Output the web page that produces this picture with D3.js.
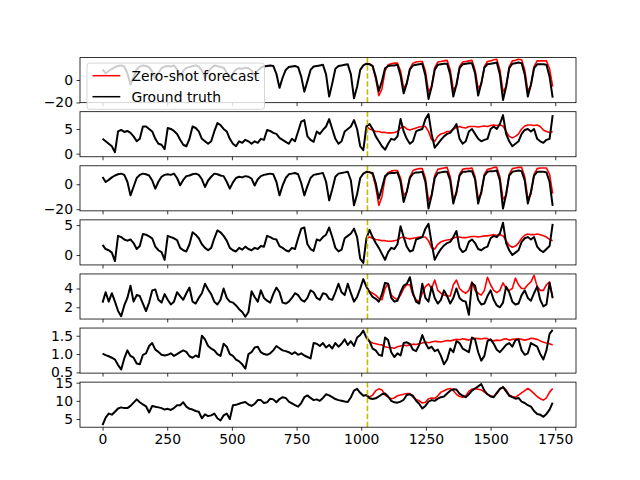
<!DOCTYPE html>
<html>
<head>
<meta charset="utf-8">
<script src="https://cdn.jsdelivr.net/npm/d3@7"></script>
<style>
  body { margin: 0; background: #fff; }
  svg { font-family: "DejaVu Sans", sans-serif; }
</style>
</head>
<body>
<svg width="640" height="480"></svg>
<script>
// series are sampled every 12 time steps (t = 0, 12, ..., 1740)
const step = 12;
const forecastFrom = 85;   // forecast starts at sample 85 (t = 1020)
const splitAt = 1024;      // end of the context window
const xTicks = [0, 250, 500, 750, 1000, 1250, 1500, 1750];

/* ground truth, one array per channel */
const hufl = [
  9.5, 6.0, 8.0, 10.0, 11.5, 12.5, 13.0, 12.0, 6.0, -4.0,
  2.5, 9.5, 12.0, 13.0, 12.5, 11.5, 7.5, 1.0, 6.5, 10.5,
  12.0, 12.5, 12.0, 13.0, 9.5, 3.5, 8.0, 11.0, 11.5, 12.5,
  13.0, 12.0, 8.5, 2.0, 7.5, 10.5, 13.0, 12.5, 11.5, 11.0,
  6.5, 1.0, 6.0, 9.5, 10.5, 10.0, 11.0, 10.5, 8.5, 3.5,
  8.5, 11.0, 12.0, 12.5, 13.0, 12.5, 5.5, -7.0, 2.0, 9.0,
  11.5, 12.0, 12.5, 11.5, 3.0, -10.4, -1.0, 9.0, 12.0, 12.5,
  13.0, 13.5, 5.0, -14.8, -3.0, 10.0, 12.5, 13.0, 13.5, 14.0,
  5.0, -16.3, -6.0, 9.0, 13.0, 14.5, 14.0, 12.5, 3.0, -9.8,
  -1.0, 10.5, 12.5, 13.0, 13.0, 13.5, 4.0, -11.9, -3.0, 9.5,
  13.0, 13.5, 14.0, 14.5, 4.0, -16.9, -6.0, 9.0, 13.5, 14.0,
  14.5, 14.5, 5.0, -14.8, -4.0, 10.5, 14.0, 14.5, 15.0, 15.0,
  6.0, -13.9, -3.0, 11.0, 14.0, 14.5, 15.0, 15.5, 5.0, -17.8,
  -6.0, 10.5, 14.5, 15.0, 15.5, 15.0, 5.0, -14.8, -4.0, 10.5,
  14.0, 14.0, 14.0, 13.5, 3.0, -15.7
];
const hull = [
  3.0, 2.5, 2.0, 1.5, 0.3, 4.5, 4.8, 4.4, 4.6, 4.2,
  3.5, 2.5, 3.0, 5.5, 5.5, 5.0, 4.5, 3.0, 2.0, 1.8,
  0.9, 5.2, 5.0, 4.6, 4.0, 2.8, 1.8, 1.5, 3.0, 5.5,
  5.2, 4.5, 3.0, 2.5, 2.0, 2.5, 4.5, 6.2, 5.8, 5.0,
  4.5, 3.0, 2.0, 1.5, 2.5, 2.2, 2.8, 2.5, 2.0, 2.5,
  2.2, 3.0, 2.8, 4.8, 4.6, 4.2, 4.0, 3.2, 2.8, 2.4,
  2.0, 3.0, 2.5, 4.5, 6.5, 6.8, 3.5, 2.8, 2.4, 4.5,
  4.0, 4.8, 5.5, 7.0, 5.0, 3.0, 2.0, 2.5, 4.5, 5.0,
  5.5, 6.8, 5.0, 1.5, 0.7, 5.5, 6.0, 5.0, 3.5, 2.5,
  1.5, 0.8, 2.0, 3.0, 2.8, 3.5, 7.0, 4.5, 3.0, 2.0,
  2.5, 4.5, 4.8, 5.0, 7.0, 8.0, 4.0, 1.2, 2.0, 2.8,
  3.5, 4.0, 4.2, 5.0, 6.0, 3.0, 2.0, 2.5, 4.5, 5.0,
  4.0, 3.0, 2.5, 2.8, 3.0, 5.0, 5.5, 5.0, 6.0, 7.8,
  4.0, 2.5, 1.5, 2.0, 2.5, 4.0, 4.8, 5.0, 4.5, 5.0,
  3.0, 2.5, 2.2, 2.8, 3.0, 7.8
];
const mufl = [
  5.8, 1.8, 3.5, 5.5, 7.0, 8.0, 8.5, 7.5, 2.0, -8.9,
  -2.0, 5.0, 7.5, 8.5, 8.0, 7.0, 3.0, -3.5, 2.0, 6.0,
  7.5, 8.0, 7.5, 8.5, 5.0, -0.8, 3.5, 6.5, 7.0, 8.0,
  8.5, 7.5, 4.0, -2.2, 3.0, 6.0, 8.5, 8.0, 7.0, 6.5,
  2.0, -3.5, 1.5, 5.0, 6.0, 5.5, 6.5, 6.0, 4.5, -1.0,
  4.0, 6.5, 7.5, 8.0, 8.5, 8.0, 2.0, -8.9, -1.0, 5.0,
  8.0, 8.5, 9.0, 8.0, 1.0, -8.9, -1.5, 5.0, 7.5, 8.0,
  8.5, 9.0, 2.0, -12.9, -4.0, 6.0, 8.5, 9.0, 9.5, 10.0,
  3.0, -16.9, -8.0, 5.0, 8.5, 10.0, 9.5, 9.0, 1.0, -11.5,
  -3.0, 6.5, 8.5, 9.0, 9.0, 9.5, 2.0, -14.2, -6.0, 5.0,
  8.5, 9.5, 9.5, 10.0, 2.0, -19.5, -9.0, 5.0, 9.0, 9.5,
  10.0, 10.0, 3.0, -15.5, -6.0, 7.0, 10.0, 10.0, 10.5, 10.5,
  4.0, -15.5, -6.0, 7.0, 10.0, 10.5, 10.5, 11.0, 3.0, -19.5,
  -8.0, 7.0, 10.0, 10.5, 11.0, 10.5, 3.0, -15.5, -6.0, 7.0,
  10.0, 10.0, 10.0, 9.5, 2.0, -17.4
];
const mull = [
  1.7, 1.0, 0.8, 0.4, -1.0, 3.2, 3.0, 2.6, 2.4, 2.6,
  2.0, 1.0, 1.5, 3.5, 3.4, 3.1, 2.8, 1.4, 0.8, 0.5,
  -0.8, 3.2, 3.0, 2.8, 2.5, 1.2, 0.8, 0.6, 1.8, 3.8,
  3.4, 2.8, 1.8, 1.2, 0.8, 1.2, 2.8, 4.1, 3.8, 3.2,
  2.4, 1.2, 0.8, 0.6, 1.2, 0.9, 1.4, 1.0, 0.8, 1.2,
  1.0, 1.5, 1.4, 3.2, 3.0, 2.7, 2.6, 1.5, 1.2, 0.8,
  0.6, 1.2, 1.0, 2.8, 4.4, 4.6, 1.8, 1.0, 0.7, 2.6,
  2.4, 3.0, 3.4, 4.6, 3.0, 1.2, 0.6, 0.9, 2.8, 3.2,
  3.6, 4.4, 3.0, -0.6, -1.3, 2.8, 4.2, 3.0, 2.0, 1.2,
  0.2, -0.8, 0.5, 1.2, 1.0, 1.8, 4.8, 3.0, 1.4, 0.6,
  0.8, 2.6, 2.8, 3.0, 4.4, 5.2, 2.0, -0.8, 0.2, 1.0,
  1.6, 2.0, 2.2, 3.0, 4.0, 1.2, 0.5, 0.8, 2.2, 2.6,
  2.0, 1.0, 0.8, 1.2, 1.4, 2.8, 3.2, 3.0, 3.6, 5.4,
  2.0, 0.8, 0.0, 0.4, 0.8, 2.2, 2.8, 3.0, 2.6, 3.0,
  1.4, 0.8, 0.5, 1.0, 1.5, 5.2
];
const lufl = [
  2.5, 3.6, 2.6, 3.5, 2.6, 1.6, 1.05, 2.2, 3.0, 4.3,
  2.6, 3.3, 3.2, 2.4, 1.6, 2.5, 3.8, 3.9, 2.8, 2.5,
  3.4, 2.8, 2.3, 2.6, 3.6, 3.2, 2.8, 3.5, 4.1, 2.6,
  2.4, 3.0, 3.5, 4.5, 3.9, 3.4, 2.6, 2.3, 2.8, 4.0,
  3.0, 2.6, 2.5, 2.2, 1.8, 1.5, 1.0, 1.5, 3.7, 3.1,
  2.6, 3.8, 3.0, 2.7, 2.5, 3.4, 4.1, 3.6, 2.5, 2.4,
  2.6, 3.0, 3.5, 3.3, 2.8, 2.6, 3.0, 3.8, 3.6, 3.0,
  2.8, 3.5, 3.4, 2.9, 2.8, 3.6, 4.5, 3.6, 3.3, 4.5,
  3.5, 2.6, 3.1, 4.0, 5.0, 4.2, 3.6, 3.1, 2.9, 2.6,
  3.4, 4.6, 4.5, 3.0, 2.6, 2.7, 3.6, 4.3, 4.5, 5.2,
  3.5, 2.6, 2.4, 4.5, 3.0, 2.6, 4.2, 3.0, 2.4, 2.8,
  3.8, 3.2, 2.4, 3.0, 4.0, 3.0, 2.7, 2.6, 1.2, 4.6,
  4.3, 2.8, 2.3, 2.4, 3.2, 3.8, 2.8, 2.2, 2.0, 2.5,
  4.2, 3.6, 2.6, 2.3, 2.4, 3.3, 3.8, 3.0, 2.7, 3.5,
  4.2, 2.8, 2.1, 2.3, 4.6, 3.0
];
const lull = [
  1.01, 0.97, 0.94, 0.90, 0.85, 0.70, 0.58, 0.88, 1.10, 0.95,
  0.90, 0.74, 0.72, 0.98, 1.02, 1.22, 1.30, 1.12, 1.06, 0.98,
  0.96, 0.98, 1.02, 0.95, 1.00, 1.05, 1.10, 1.06, 0.94, 0.90,
  0.96, 0.92, 1.50, 1.40, 1.22, 1.15, 1.10, 1.00, 0.95, 1.28,
  1.20, 1.00, 0.95, 0.85, 0.80, 0.72, 0.60, 1.00, 1.05, 1.18,
  1.20, 1.05, 1.00, 0.98, 1.02, 1.10, 1.22, 1.16, 1.10, 1.08,
  1.05, 1.00, 1.05, 0.98, 1.02, 0.96, 0.92, 0.88, 1.30, 1.28,
  1.22, 1.30, 1.18, 1.25, 1.15, 1.30, 1.20, 1.28, 1.40, 1.25,
  1.35, 1.22, 1.45, 1.52, 1.64, 1.45, 1.35, 1.15, 1.10, 0.98,
  0.95, 1.45, 1.38, 1.05, 0.92, 1.02, 0.96, 1.30, 1.32, 1.28,
  1.12, 1.08, 1.25, 1.52, 1.30, 1.15, 1.20, 1.08, 1.12, 0.95,
  0.72, 0.85, 1.15, 1.05, 1.35, 1.30, 1.15, 1.10, 1.05, 1.45,
  1.40, 1.05, 0.82, 0.95, 1.35, 1.40, 1.28, 1.12, 1.05, 1.15,
  1.25, 1.30, 1.20, 1.38, 1.40, 1.10, 0.98, 1.02, 1.30, 1.25,
  1.20, 1.00, 0.85, 1.10, 1.55, 1.66
];
const ot = [
  3.35, 5.4, 6.5, 6.2, 7.0, 7.9, 8.2, 8.0, 8.0, 8.6,
  9.5, 10.4, 9.6, 9.0, 8.5, 6.8, 8.6, 8.4, 8.2, 8.0,
  7.6, 7.8, 7.5, 8.0, 8.8, 8.8, 9.6, 8.4, 7.8, 7.6,
  7.2, 7.0, 5.2, 6.3, 5.8, 6.0, 6.5, 5.2, 4.6, 6.0,
  6.5, 5.0, 8.8, 8.9, 9.2, 9.5, 9.7, 9.0, 8.6, 9.2,
  10.2, 10.2, 9.4, 9.6, 10.6, 10.4, 9.6, 10.5, 11.0, 10.8,
  9.8, 9.3, 8.8, 8.4, 9.4, 11.0, 11.5, 10.8, 10.2, 10.4,
  10.0, 10.8, 11.8, 11.5, 11.0, 10.5, 10.2, 10.0, 9.8, 9.7,
  11.0, 12.8, 13.3, 12.2, 11.4, 11.6, 10.7, 10.5, 10.7, 11.2,
  11.8, 12.0, 11.2, 10.0, 9.6, 9.5, 9.8, 10.3, 11.6, 11.8,
  11.4, 10.0, 9.2, 7.9, 8.6, 9.8, 10.2, 10.0, 10.6, 11.0,
  11.2, 12.0, 12.8, 13.2, 13.1, 12.0, 11.4, 11.0, 11.8, 12.8,
  13.4, 14.0, 14.6, 12.8, 11.8, 11.2, 11.0, 12.2, 13.3, 13.8,
  12.6, 11.4, 11.0, 10.6, 10.8, 9.8, 9.4, 8.8, 8.4, 7.2,
  6.4, 6.2, 5.6, 6.4, 7.6, 9.5
];

/* zero-shot forecast, from sample 85 to 145 */
const huflForecast = [
  14.5, 14.5, 12.0, 1.0, -13.9, -8.0, 8.0, 13.5, 14.5, 15.0,
  15.0, 8.0, -7.4, -3.0, 10.0, 15.0, 16.0, 16.5, 16.5, 8.0,
  -10.4, -6.0, 11.0, 16.0, 16.5, 17.0, 17.5, 9.0, -8.9, -5.0,
  12.0, 16.0, 16.5, 17.0, 17.5, 9.0, -7.4, -4.0, 12.0, 16.5,
  17.0, 18.0, 18.5, 9.0, -10.4, -6.0, 12.0, 17.0, 17.5, 18.5,
  18.0, 9.0, -9.8, -5.0, 12.0, 17.0, 17.0, 17.0, 17.0, 10.0,
  -5.9
];
const hullForecast = [
  5.5, 5.0, 4.8, 4.5, 4.5, 4.3, 4.3, 4.2, 4.2, 4.3,
  4.5, 5.2, 5.5, 5.0, 4.8, 5.0, 5.2, 5.4, 5.5, 5.5,
  4.5, 2.8, 2.5, 3.5, 4.0, 4.2, 4.5, 4.5, 5.0, 5.3,
  5.5, 5.3, 5.2, 5.5, 5.5, 5.5, 5.4, 5.5, 5.6, 5.5,
  5.7, 5.8, 5.7, 5.8, 5.6, 4.5, 3.5, 3.2, 3.5, 4.0,
  5.0, 5.6, 5.8, 5.8, 5.7, 5.8, 5.5, 4.8, 4.5, 4.3,
  4.5
];
const muflForecast = [
  10.0, 10.0, 8.0, -2.0, -16.9, -10.0, 5.0, 9.5, 10.5, 11.0,
  11.0, 5.0, -8.9, -6.0, 6.0, 11.0, 12.0, 12.5, 12.5, 5.0,
  -12.9, -9.0, 7.0, 12.0, 12.5, 13.0, 13.5, 6.0, -11.5, -8.0,
  8.0, 12.0, 12.5, 12.5, 13.0, 6.0, -11.0, -8.0, 8.0, 12.0,
  12.5, 13.5, 13.5, 6.0, -12.1, -9.0, 8.0, 12.5, 13.0, 13.5,
  13.5, 6.0, -11.5, -8.0, 8.0, 12.5, 13.0, 13.0, 13.0, 8.0,
  -7.5
];
const mullForecast = [
  2.8, 3.0, 2.8, 2.6, 2.5, 2.4, 2.4, 2.3, 2.3, 2.4,
  2.5, 2.9, 3.0, 2.8, 2.7, 2.8, 2.9, 3.0, 3.0, 3.0,
  2.4, 1.2, 1.0, 1.8, 2.2, 2.4, 2.5, 2.6, 2.8, 3.0,
  3.0, 2.9, 2.9, 3.0, 3.1, 3.1, 3.0, 3.1, 3.2, 3.2,
  3.3, 3.4, 3.3, 3.4, 3.2, 2.4, 1.6, 1.3, 1.5, 2.0,
  2.8, 3.3, 3.5, 3.4, 3.4, 3.5, 3.4, 3.2, 3.0, 2.6,
  2.4
];
const luflForecast = [
  4.2, 3.7, 3.5, 3.3, 2.95, 2.8, 4.0, 4.5, 3.3, 3.0,
  2.8, 3.3, 4.0, 4.4, 4.4, 3.3, 2.8, 2.6, 3.5, 4.2,
  4.5, 4.0, 4.9, 3.8, 3.5, 3.3, 3.2, 3.2, 4.4, 4.9,
  4.0, 3.7, 3.5, 3.8, 4.7, 3.8, 3.5, 3.3, 3.8, 5.2,
  4.4, 3.8, 3.55, 3.8, 4.6, 4.0, 3.8, 4.0, 5.1, 4.4,
  4.0, 4.0, 4.4, 4.7, 5.4, 4.2, 3.8, 3.8, 4.4, 4.7,
  2.95
];
const lullForecast = [
  1.45, 1.34, 1.30, 1.28, 1.26, 1.25, 1.20, 1.18, 1.17, 1.16,
  1.20, 1.22, 1.24, 1.23, 1.25, 1.27, 1.26, 1.28, 1.30, 1.33,
  1.31, 1.33, 1.35, 1.34, 1.33, 1.35, 1.37, 1.36, 1.38, 1.40,
  1.39, 1.42, 1.40, 1.38, 1.42, 1.43, 1.42, 1.41, 1.43, 1.42,
  1.38, 1.36, 1.38, 1.37, 1.40, 1.42, 1.38, 1.40, 1.41, 1.42,
  1.40, 1.38, 1.40, 1.43, 1.42, 1.40, 1.36, 1.32, 1.30, 1.28,
  1.25
];
const otForecast = [
  11.6, 11.0, 11.6, 12.8, 13.3, 13.0, 11.6, 11.0, 10.6, 10.8,
  11.4, 11.6, 11.8, 12.0, 12.0, 11.0, 10.4, 10.0, 9.4, 9.6,
  10.6, 10.8, 10.7, 11.4, 12.4, 12.8, 13.2, 13.4, 12.8, 11.8,
  11.2, 11.0, 11.4, 12.6, 13.2, 13.4, 13.2, 13.0, 12.4, 11.8,
  11.4, 11.2, 12.0, 13.2, 13.8, 13.0, 11.6, 11.2, 11.0, 11.6,
  12.2, 12.8, 13.4, 12.8, 12.0, 11.2, 10.6, 10.2, 10.8, 12.4,
  13.4
];

const panels = [
  { truth: hufl, forecast: huflForecast, yDomain: [-20.2, 19.95], yTicks: [-20, 0] },
  { truth: hull, forecast: hullForecast, yDomain: [-0.63, 8.5], yTicks: [0, 5] },
  { truth: mufl, forecast: muflForecast, yDomain: [-21.3, 14.8], yTicks: [-20, 0] },
  { truth: mull, forecast: mullForecast, yDomain: [-1.65, 5.87], yTicks: [0, 5] },
  { truth: lufl, forecast: luflForecast, yDomain: [0.75, 5.55], yTicks: [2, 4] },
  { truth: lull, forecast: lullForecast, yDomain: [0.48, 1.71], yTicks: [0.5, 1.0, 1.5], fmt: '.1f' },
  { truth: ot, forecast: otForecast, yDomain: [2.75, 15.15], yTicks: [5, 10, 15] }
];

var svg = d3.select('svg');
var fontSize = 13.9;
var figTop = 57.6, figBottom = 427.2, left = 80, right = 576;
var panelH = (figBottom - figTop) / (panels.length + (panels.length - 1) * 0.2);
var gap = panelH * 0.2;

var x = d3.scaleLinear().domain([-87.15, 1830.15]).range([left, right]);

function styleAxis(g) {
  g.select('.domain').remove();
  g.attr('font-family', '"DejaVu Sans", sans-serif').attr('font-size', fontSize);
  g.selectAll('.tick line').attr('stroke', '#000').attr('stroke-width', 0.8);
  g.selectAll('.tick text').attr('fill', '#000');
}

panels.forEach(function(p, i) {
  var top = figTop + i * (panelH + gap);
  var bottom = top + panelH;
  var y = d3.scaleLinear().domain(p.yDomain).range([bottom, top]);
  var g = svg.append('g');

  g.append('rect')
    .attr('x', left).attr('y', top)
    .attr('width', right - left).attr('height', panelH)
    .attr('fill', '#fff');

  var clipId = 'clip' + i;
  g.append('clipPath').attr('id', clipId)
    .append('rect')
    .attr('x', left).attr('y', top)
    .attr('width', right - left).attr('height', panelH);

  var plot = g.append('g').attr('clip-path', 'url(#' + clipId + ')');

  var fcLine = d3.line()
    .x((d, j) => x((forecastFrom + j) * step))
    .y(d => y(d));
  var gtLine = d3.line()
    .x((d, j) => x(j * step))
    .y(d => y(d));

  plot.append('path')
    .datum(p.forecast)
    .attr('fill', 'none')
    .attr('stroke', '#ff0000')
    .attr('stroke-width', 1.6)
    .attr('stroke-linejoin', 'round')
    .attr('d', fcLine);

  // the real series is noisy, a slightly heavier stroke gives it the same weight
  plot.append('path')
    .datum(p.truth)
    .attr('fill', 'none')
    .attr('stroke', '#000')
    .attr('stroke-width', 2)
    .attr('stroke-linejoin', 'round')
    .attr('d', gtLine);

  plot.append('line')
    .attr('x1', x(splitAt)).attr('x2', x(splitAt))
    .attr('y1', bottom).attr('y2', top)
    .attr('stroke', '#bfbf00')
    .attr('stroke-width', 1.6)
    .attr('stroke-dasharray', '5.55,2.4');

  // x ticks on every panel, labels only on the last one
  var xAxis = d3.axisBottom(x).tickValues(xTicks).tickSize(3.5).tickPadding(3.5)
    .tickFormat(i < panels.length - 1 ? '' : d3.format('d'));
  g.append('g')
    .attr('transform', 'translate(0,' + bottom + ')')
    .call(xAxis)
    .call(styleAxis);

  var yAxis = d3.axisLeft(y).tickValues(p.yTicks).tickSize(3.5).tickPadding(3.5)
    .tickFormat(d3.format(p.fmt || 'd'));
  g.append('g')
    .attr('transform', 'translate(' + left + ',0)')
    .call(yAxis)
    .call(styleAxis);

  g.append('rect')
    .attr('x', left).attr('y', top)
    .attr('width', right - left).attr('height', panelH)
    .attr('fill', 'none')
    .attr('stroke', '#000')
    .attr('stroke-width', 0.8);
});

// legend sits in the first panel, upper left
var legend = svg.append('g');
legend.append('rect')
  .attr('x', 87).attr('y', 63.1)
  .attr('width', 177.5).attr('height', 46.2)
  .attr('rx', 2.8)
  .attr('fill', '#fff').attr('fill-opacity', 0.8)
  .attr('stroke', '#cccccc').attr('stroke-opacity', 0.8);

var items = [
  { label: 'Zero-shot forecast', color: '#ff0000', cy: 75.7 },
  { label: 'Ground truth', color: '#000', cy: 96.7 }
];
items.forEach(function(it) {
  legend.append('line')
    .attr('x1', 92.5).attr('x2', 120.3)
    .attr('y1', it.cy).attr('y2', it.cy)
    .attr('stroke', it.color).attr('stroke-width', 1.5);
  legend.append('text')
    .attr('x', 131.4).attr('y', it.cy + 4.8)
    .attr('font-size', fontSize)
    .attr('fill', '#000')
    .text(it.label);
});
</script>
</body>
</html>
